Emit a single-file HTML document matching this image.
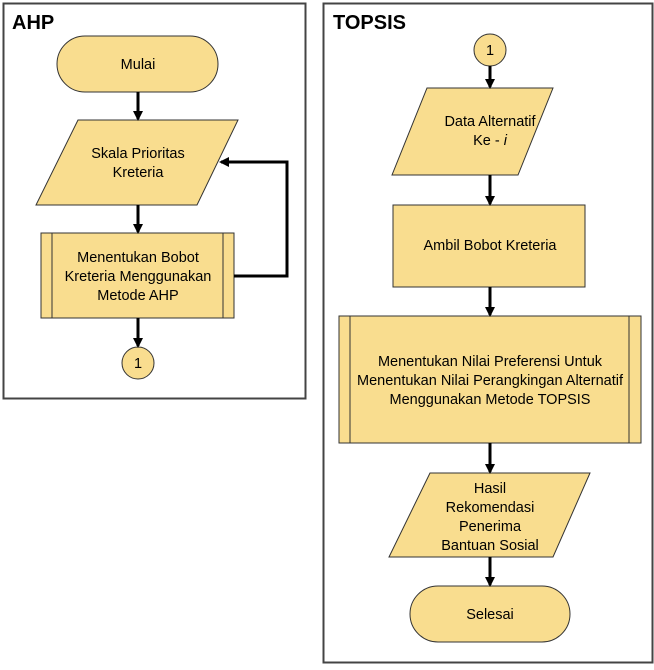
<!DOCTYPE html>
<html><head><style>body{margin:0;background:#fff}</style></head><body>
<svg width="654" height="665" viewBox="0 0 654 665" xmlns="http://www.w3.org/2000/svg" font-family="Liberation Sans, sans-serif">
<defs><marker id="a" markerWidth="10" markerHeight="10" refX="8" refY="5" orient="auto" markerUnits="userSpaceOnUse"><path d="M0,0 L10,5 L0,10 z" fill="#000"/></marker></defs>
<rect x="3.5" y="3.5" width="302" height="395" fill="#fff" stroke="#444" stroke-width="2"/>
<rect x="323.5" y="3.5" width="329" height="659" fill="#fff" stroke="#444" stroke-width="2"/>
<text x="12" y="29" font-size="20" font-weight="bold">AHP</text>
<text x="333" y="29" font-size="20" font-weight="bold">TOPSIS</text>
<g fill="#f9dd8f" stroke="#333" stroke-width="1">
<rect x="57" y="36" width="161" height="56" rx="28"/>
<polygon points="78,120 238,120 197,205 36,205"/>
<rect x="41" y="233" width="193" height="85"/>
<circle cx="138" cy="363" r="16"/>
<circle cx="490" cy="50" r="16"/>
<polygon points="427,88 553,88 518,175 392,175"/>
<rect x="393" y="205" width="192" height="82"/>
<rect x="339" y="316" width="302" height="127"/>
<polygon points="430,473 590,473 553,557 389,557"/>
<rect x="410" y="586" width="160" height="56" rx="28"/>
</g>
<g stroke="#333" stroke-width="1">
<line x1="52" y1="233" x2="52" y2="318"/><line x1="223" y1="233" x2="223" y2="318"/>
<line x1="350" y1="316" x2="350" y2="443"/><line x1="629" y1="316" x2="629" y2="443"/>
</g>
<g stroke="#000" stroke-width="3" fill="none" marker-end="url(#a)">
<line x1="138" y1="92" x2="138" y2="119"/>
<line x1="138" y1="205" x2="138" y2="232"/>
<line x1="138" y1="318" x2="138" y2="346"/>
<polyline points="234,276 287,276 287,162 221,162"/>
<line x1="490" y1="66" x2="490" y2="87"/>
<line x1="490" y1="175" x2="490" y2="204"/>
<line x1="490" y1="287" x2="490" y2="315"/>
<line x1="490" y1="443" x2="490" y2="472"/>
<line x1="490" y1="557" x2="490" y2="585"/>
</g>
<g font-size="14.5" fill="#000" text-anchor="middle">
<text x="138" y="69">Mulai</text>
<text x="138" y="158">Skala Prioritas</text><text x="138" y="177">Kreteria</text>
<text x="138" y="262">Menentukan Bobot</text><text x="138" y="281">Kreteria Menggunakan</text><text x="138" y="300">Metode AHP</text>
<text x="138" y="368">1</text>
<text x="490" y="55">1</text>
<text x="490" y="126">Data Alternatif</text><text x="490" y="145">Ke - <tspan font-style="italic">i</tspan></text>
<text x="490" y="250">Ambil Bobot Kreteria</text>
<text x="490" y="366">Menentukan Nilai Preferensi Untuk</text>
<text x="490" y="385">Menentukan Nilai Perangkingan Alternatif</text>
<text x="490" y="404">Menggunakan Metode TOPSIS</text>
<text x="490" y="493">Hasil</text><text x="490" y="512">Rekomendasi</text><text x="490" y="531">Penerima</text><text x="490" y="550">Bantuan Sosial</text>
<text x="490" y="619">Selesai</text>
</g>
</svg>
</body></html>
